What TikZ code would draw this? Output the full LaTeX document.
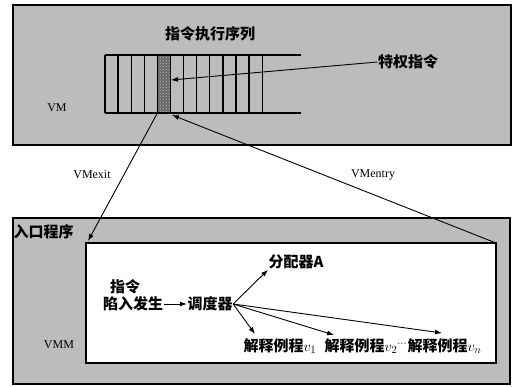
\documentclass[tikz,border=0pt]{standalone}
\usepackage{fontspec}
\setmainfont{Liberation Serif}
\newfontfamily\cjk{Noto Sans CJK SC}
\usetikzlibrary{arrows.meta,patterns}
\definecolor{bggray}{RGB}{188,188,188}
\begin{document}
\begin{tikzpicture}[x=1pt,y=-1pt,line width=1.3pt,
  box/.style={draw,inner sep=0pt,outer sep=0pt,anchor=north west},
  lbl/.style={inner sep=0pt,font=\fontsize{12}{14}\selectfont},
  cn/.style={inner sep=0pt,font=\fontsize{15}{17}\selectfont\cjk\bfseries},
  arr/.style={-{Latex[length=7pt,width=5pt]},line width=0.9pt}]
\useasboundingbox (0,0) rectangle (513,386);
% VM box
\node[box,fill=bggray,minimum width=498pt,minimum height=140pt] (vm) at (13,5) {};
% VMM box
\node[box,fill=bggray,minimum width=497pt,minimum height=166pt] (vmm) at (13,218) {};
\node[box,fill=white,minimum width=410pt,minimum height=120pt] (inner) at (86,243) {};
% instruction sequence
\node[box,fill=black!60,minimum width=13.1pt,minimum height=58pt] (priv) at (157.4,55) {};
\fill[pattern=crosshatch dots,pattern color=black!25] (priv.north west) rectangle (priv.south east);
\draw (105,55) -- (301,55);
\draw (105,113) -- (301,113);
\foreach \k in {0,...,12}{\draw ({105+13.1*\k},55) -- ({105+13.1*\k},113);}
% texts
\node[cn] (seq) at (210,34) {指令执行序列};
\node[cn] (privlbl) at (408,62) {特权指令};
\node[lbl] (vmlbl) at (57,108) {VM};
\node[lbl] (exitlbl) at (92,175) {VMexit};
\node[lbl] (entrylbl) at (373,175) {VMentry};
\node[cn,anchor=west] (entry) at (13,232) {入口程序};
\node[lbl] (vmmlbl) at (59,345) {VMM};
\node[cn] (instr) at (125,287) {指令};
\node[cn] (trap) at (133,304) {陷入发生};
\node[cn] (sched) at (210,304) {调度器};
\node[cn,anchor=west] (alloc) at (268,262) {分配器A};
\node[cn,anchor=west] (v1) at (243,346) {解释例程$v_1$};
\node[cn,anchor=west] (v2) at (324,346) {解释例程$v_2$$^{\cdots}$};
\node[cn,anchor=west] (vn) at (407,346) {解释例程$v_n$};
\coordinate (p1) at (171,80);
\coordinate (exitEnd) at (88,241);
\coordinate (entryTip) at (172,115);
\coordinate (t1) at (255,334);
\coordinate (t2) at (334,335);
\coordinate (t3) at (442,333);
% connectors
\draw[arr] (privlbl.west) -- (p1);
\draw[arr] (priv.south west) -- (exitEnd);
\draw[arr] (inner.north east) -- (entryTip);
\draw[arr] (trap.east) -- (sched.west);
\draw[arr] (sched.east) -- (alloc.south west);
\draw[arr] (sched.east) -- (t1);
\draw[arr] (sched.east) -- (t2);
\draw[arr] (sched.east) -- (t3);
\end{tikzpicture}
\end{document}
